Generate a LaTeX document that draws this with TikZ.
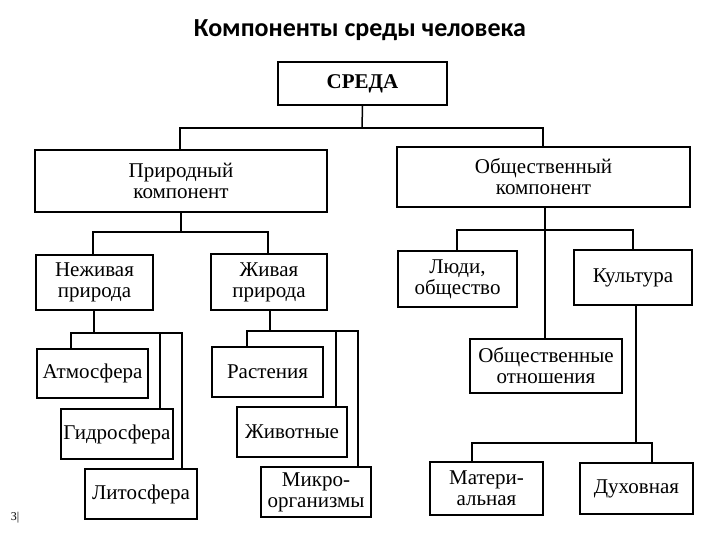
\documentclass[tikz,border=0pt]{standalone}
\usepackage{fontspec}
\setmainfont{Liberation Serif}
\newfontfamily\titlefont{Carlito}
\begin{document}
\begin{tikzpicture}[x=1pt,y=-1pt,
  bx/.style={draw,line width=1.6pt,align=center,inner sep=0pt,font=\fontsize{21}{21}\selectfont},
  ln/.style={line width=1.5pt}]
\useasboundingbox (0,0) rectangle (720,540);
\newcommand\bxn[6]{\node[bx,minimum width=#4-#2,minimum height=#5-#3] (#1) at ({(#2+#4)/2},{(#3+#5)/2}) {#6};}
\node[font=\titlefont\bfseries\fontsize{26}{28}\selectfont] (title) at (360,30) {Компоненты среды человека};
\node[font=\fontsize{12}{12}\selectfont] (pg) at (15,518) {3|};
\bxn{sreda}{278}{62}{447}{105}{\textbf{СРЕДА}}
\bxn{prir}{35}{150}{327}{212}{Природный\\компонент}
\bxn{obsh}{397}{147}{690}{207}{Общественный\\компонент}
\bxn{nezh}{36}{255}{153}{310}{Неживая\\природа}
\bxn{zhiv}{211}{254}{327}{310}{Живая\\природа}
\bxn{atm}{37}{349}{148}{398}{Атмосфера}
\bxn{gid}{61}{409}{173}{459}{Гидросфера}
\bxn{lit}{85}{469}{197}{519}{Литосфера}
\bxn{rast}{212}{347}{323}{397}{Растения}
\bxn{zhivot}{237}{407}{347}{457}{Животные}
\bxn{mikro}{261}{467}{371}{517}{Микро-\\организмы}
\bxn{lyudi}{398}{251}{517}{307}{Люди,\\общество}
\bxn{kult}{574}{250}{692}{305}{Культура}
\bxn{otn}{470}{339}{622}{393}{Общественные\\отношения}
\bxn{mat}{430}{462}{543}{515}{Матери-\\альная}
\bxn{duh}{580}{463}{693}{514}{Духовная}
% connectors
\draw[ln] (sreda.south) -- (362,128) coordinate (c1);
\draw[ln] (prir.north -| 180,0) |- (c1) -| (obsh.north -| 543,0);
\draw[ln] (prir.south) -- (181,232) coordinate (c2);
\draw[ln] (nezh.north -| 93,0) |- (c2) -| (zhiv.north -| 268,0);
\draw[ln] (nezh.south -| 94,0) -- (94,333) coordinate (c3);
\draw[ln] (atm.north -| 71,0) |- (c3) -| (lit.north -| 182,0);
\draw[ln] (160,333) -- (gid.north -| 160,0);
\draw[ln] (zhiv.south -| 270,0) -- (270,331) coordinate (c4);
\draw[ln] (rast.north -| 247,0) |- (c4) -| (mikro.north -| 358,0);
\draw[ln] (336,331) -- (zhivot.north -| 336,0);
\draw[ln] (obsh.south -| 545,0) -- (otn.north -| 545,0);
\draw[ln] (lyudi.north -| 457,0) |- (545,230) coordinate (c5) -| (kult.north -| 633,0);
\draw[ln] (kult.south -| 636,0) -- (636,443) coordinate (c6);
\draw[ln] (mat.north -| 472,0) |- (c6) -| (duh.north -| 652,0);
\end{tikzpicture}
\end{document}
